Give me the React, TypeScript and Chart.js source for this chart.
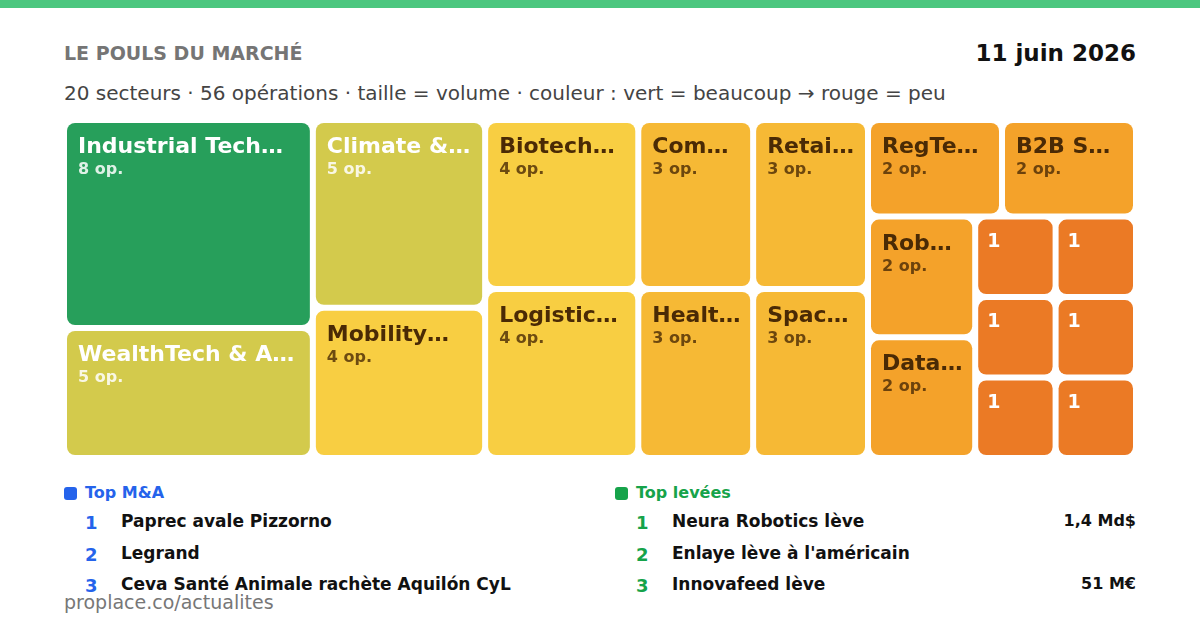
import React, { useEffect, useRef } from "react";
import { Chart, registerables } from "chart.js";

Chart.register(...registerables);

// ---- Data ----
const sectors = [
  "Industrial Tech & Manufacturing",
  "WealthTech & Asset Management",
  "Climate & Energy",
  "Mobility & Transport",
  "Biotech & Pharma",
  "Logistics & Supply Chain",
  "Commerce",
  "HealthTech",
  "Retail & Consumer",
  "SpaceTech",
  "RegTech & Compliance",
  "B2B SaaS",
  "Robotics",
  "Data & AI",
  "Cybersecurity",
  "EdTech",
  "FoodTech",
  "PropTech",
  "InsurTech",
  "LegalTech",
];
const operations = [8, 5, 5, 4, 4, 4, 3, 3, 3, 3, 2, 2, 2, 2, 1, 1, 1, 1, 1, 1];

const maDeals = ["Paprec avale Pizzorno", "Legrand", "Ceva Santé Animale rachète Aquilón CyL"];
const fundDeals = ["Neura Robotics lève", "Enlaye lève à l'américain", "Innovafeed lève"];
const fundAmounts = ["1,4 Md$", "", "51 M€"];

const titleText = "LE POULS DU MARCHÉ";
const dateText = "11 juin 2026";
const subtitleText =
  "20 secteurs · 56 opérations · taille = volume · couleur : vert = beaucoup → rouge = peu";
const footerText = "proplace.co/actualites";

// ---- Styles ----
const tileColors: Record<number, string> = {
  8: "#279F5B",
  5: "#D3CA4C",
  4: "#F8CE42",
  3: "#F6B935",
  2: "#F4A22A",
  1: "#EB7A25",
};
const lightTextCounts = [8, 5, 1];
const FONT = "'DejaVu Sans', sans-serif";

type R = { x0: number; y0: number; x1: number; y1: number };

function squarify(values: number[], x0: number, y0: number, x1: number, y1: number): R[] {
  const out: R[] = [];
  const n = values.length;
  let i0 = 0;
  let i1 = 0;
  let value = values.reduce((a, b) => a + b, 0);
  while (i0 < n) {
    const dx = x1 - x0;
    const dy = y1 - y0;
    let sumValue = values[i1++];
    let minV = sumValue;
    let maxV = sumValue;
    const alpha = Math.max(dy / dx, dx / dy) / value;
    let beta = sumValue * sumValue * alpha;
    let minRatio = Math.max(maxV / beta, beta / minV);
    for (; i1 < n; ++i1) {
      const v = values[i1];
      sumValue += v;
      if (v < minV) minV = v;
      if (v > maxV) maxV = v;
      beta = sumValue * sumValue * alpha;
      const nr = Math.max(maxV / beta, beta / minV);
      if (nr > minRatio) {
        sumValue -= v;
        break;
      }
      minRatio = nr;
    }
    if (dx < dy) {
      const ny = i1 >= n ? y1 : y0 + (dy * sumValue) / value;
      let x = x0;
      for (let k = i0; k < i1; k++) {
        const w = (dx * values[k]) / sumValue;
        out[k] = { x0: x, y0: y0, x1: x + w, y1: ny };
        x += w;
      }
      y0 = ny;
    } else {
      const nx = i1 >= n ? x1 : x0 + (dx * sumValue) / value;
      let y = y0;
      for (let k = i0; k < i1; k++) {
        const h = (dy * values[k]) / sumValue;
        out[k] = { x0: x0, y0: y, x1: nx, y1: y + h };
        y += h;
      }
      x0 = nx;
    }
    value -= sumValue;
    i0 = i1;
  }
  return out;
}

function roundRect(ctx: CanvasRenderingContext2D, x: number, y: number, w: number, h: number, r: number) {
  const rr = Math.min(r, w / 2, h / 2);
  ctx.beginPath();
  ctx.moveTo(x + rr, y);
  ctx.lineTo(x + w - rr, y);
  ctx.arcTo(x + w, y, x + w, y + rr, rr);
  ctx.lineTo(x + w, y + h - rr);
  ctx.arcTo(x + w, y + h, x + w - rr, y + h, rr);
  ctx.lineTo(x + rr, y + h);
  ctx.arcTo(x, y + h, x, y + h - rr, rr);
  ctx.lineTo(x, y + rr);
  ctx.arcTo(x, y, x + rr, y, rr);
  ctx.closePath();
}

function fitText(ctx: CanvasRenderingContext2D, text: string, maxW: number): string {
  if (ctx.measureText(text).width <= maxW) return text;
  let t = text;
  while (t.length > 0 && ctx.measureText(t + "…").width > maxW) t = t.slice(0, -1);
  return t.replace(/\s+$/, "") + "…";
}

const treemapPlugin = {
  id: "treemapTiles",
  afterDatasetsDraw(chart: any) {
    const { ctx, chartArea, scales } = chart;
    const xs = scales.x;
    const ys = scales.y;
    const aspect = chartArea.width / chartArea.height;
    const rects = squarify(operations, 0, 0, aspect, 1);
    ctx.save();
    rects.forEach((r, i) => {
      const px0 = xs.getPixelForValue(r.x0 / aspect);
      const px1 = xs.getPixelForValue(r.x1 / aspect);
      const py0 = ys.getPixelForValue(r.y0);
      const py1 = ys.getPixelForValue(r.y1);
      const x = px0 + 3;
      const y = py0 + 3;
      const w = px1 - px0 - 6;
      const h = py1 - py0 - 6;
      const count = operations[i];
      ctx.fillStyle = tileColors[count];
      roundRect(ctx, x, y, w, h, 8);
      ctx.fill();
      const light = lightTextCounts.includes(count);
      ctx.textAlign = "left";
      ctx.textBaseline = "alphabetic";
      if (w < 90) {
        ctx.fillStyle = "#ffffff";
        ctx.font = `bold 19px ${FONT}`;
        ctx.fillText(String(count), x + 9, y + 27);
      } else {
        ctx.fillStyle = light ? "#ffffff" : "#4A2A05";
        ctx.font = `bold 22px ${FONT}`;
        ctx.fillText(fitText(ctx, sectors[i], w - 19.5), x + 11, y + 30);
        ctx.fillStyle = light ? "rgba(255,255,255,0.85)" : "rgba(74,42,5,0.8)";
        ctx.font = `bold 16px ${FONT}`;
        ctx.fillText(`${count} op.`, x + 11, y + 51);
      }
    });
    ctx.restore();
  },
};

function TreemapChart() {
  const ref = useRef<HTMLCanvasElement | null>(null);
  useEffect(() => {
    if (!ref.current) return;
    const chart = new Chart(ref.current, {
      type: "scatter",
      data: { labels: sectors, datasets: [{ data: [], pointRadius: 0 }] },
      options: {
        animation: false,
        responsive: false,
        events: [],
        layout: { padding: 0 },
        plugins: { legend: { display: false }, tooltip: { enabled: false } },
        scales: {
          x: { type: "linear", min: 0, max: 1, display: false },
          y: { type: "linear", min: 0, max: 1, reverse: true, display: false },
        },
      },
      plugins: [treemapPlugin],
    } as any);
    return () => chart.destroy();
  }, []);
  return (
    <canvas
      ref={ref}
      width={1072}
      height={338}
      style={{ position: "absolute", left: 64, top: 120, width: 1072, height: 338 }}
    />
  );
}

function abs(left: number, baseline: number, size: number, extra: React.CSSProperties = {}): React.CSSProperties {
  return {
    position: "absolute",
    left,
    top: baseline - 0.846 * size,
    fontSize: size,
    lineHeight: `${size}px`,
    whiteSpace: "nowrap",
    ...extra,
  };
}

function DealList({
  x,
  title,
  color,
  items,
  amounts,
}: {
  x: number;
  title: string;
  color: string;
  items: string[];
  amounts?: string[];
}) {
  const baselines = [527, 559, 590];
  return (
    <>
      <div
        style={{
          position: "absolute",
          left: x,
          top: 487,
          width: 13,
          height: 13,
          borderRadius: 3,
          background: color,
        }}
      />
      <div style={abs(x + 21, 499, 16, { color, fontWeight: "bold" })}>{title}</div>
      {items.map((it, i) => (
        <React.Fragment key={i}>
          <div style={abs(x + 21, baselines[i] + 2, 18, { color, fontWeight: "bold" })}>{i + 1}</div>
          <div style={abs(x + 57, baselines[i], 17, { color: "#111", fontWeight: "bold" })}>{it}</div>
          {amounts && amounts[i] ? (
            <div
              style={{
                ...abs(0, baselines[i], 16, { color: "#111", fontWeight: "bold" }),
                left: undefined,
                right: 64,
              }}
            >
              {amounts[i]}
            </div>
          ) : null}
        </React.Fragment>
      ))}
    </>
  );
}

export default function App() {
  return (
    <div
      style={{
        position: "absolute",
        left: 0,
        top: 0,
        width: 1200,
        height: 630,
        background: "#ffffff",
        overflow: "hidden",
        fontFamily: FONT,
      }}
    >
      <div style={{ position: "absolute", left: 0, top: 0, width: 1200, height: 8, background: "#4CC77F" }} />
      <div style={abs(64, 60, 19, { color: "#757575", fontWeight: "bold" })}>{titleText}</div>
      <div
        style={{
          ...abs(0, 61, 23, { color: "#111", fontWeight: "bold" }),
          left: undefined,
          right: 64,
        }}
      >
        {dateText}
      </div>
      <div style={abs(64, 100, 20, { color: "#444" })}>{subtitleText}</div>
      <TreemapChart />
      <DealList x={64} title="Top M&A" color="#2563EB" items={maDeals} />
      <DealList x={615} title="Top levées" color="#16A34A" items={fundDeals} amounts={fundAmounts} />
      <div style={abs(64, 609, 19, { color: "#777" })}>{footerText}</div>
    </div>
  );
}
